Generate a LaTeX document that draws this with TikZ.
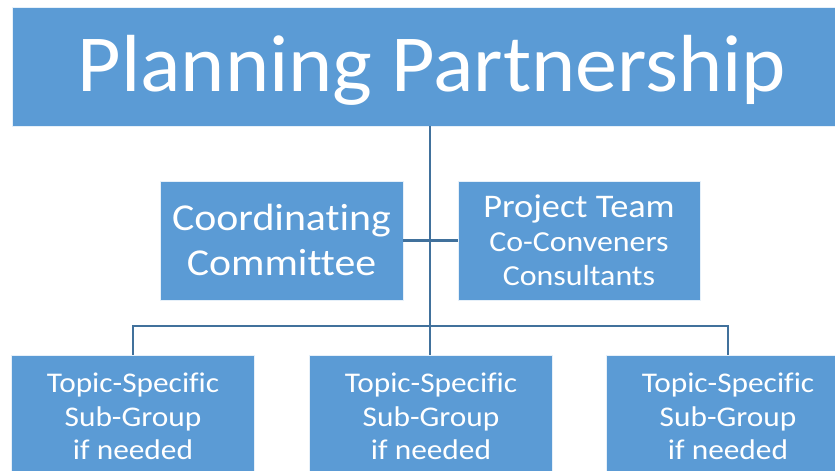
\documentclass[tikz,border=0pt]{standalone}
\usepackage{fontspec}
\setmainfont[Ligatures=NoCommon]{Carlito}
\newfontfamily\titlefont[Ligatures=NoCommon,FakeStretch=1.04]{Carlito}
\newfontfamily\widefont[Ligatures=NoCommon,FakeStretch=1.1]{Carlito}
\definecolor{boxfill}{HTML}{5B9BD5}
\definecolor{linecol}{HTML}{41719C}
\begin{document}
\begin{tikzpicture}[x=1pt,y=-1pt,
  box/.style={fill=boxfill, draw=white!85!boxfill, line width=0.8pt, inner sep=0pt},
  txt/.style={text=white, anchor=base, inner sep=0pt},
  conn/.style={draw=linecol, line width=2.4pt}]
\useasboundingbox (0,0) rectangle (835,471);
\begin{scope}
\clip (0,0) rectangle (835,471);
% boxes
\node[box, minimum width=836, minimum height=119] (top) at (430,66.5) {};
\node[box, minimum width=243, minimum height=119] (coord) at (281.5,240.5) {};
\node[box, minimum width=242, minimum height=119] (proj) at (579,240.5) {};
\node[box, minimum width=243, minimum height=122] (sub1) at (133,416) {};
\node[box, minimum width=243, minimum height=122] (sub2) at (430.5,416) {};
\node[box, minimum width=243, minimum height=122] (sub3) at (728,416) {};
% connectors
\coordinate (bus) at (430,326);
\draw[conn] (top.south -| bus) -- (sub2.north -| bus);
\draw[conn] (coord.east) -- (proj.west);
\draw[conn] (sub1.north) |- (bus) -| (sub3.north);
% texts
\node[txt, font=\titlefont\fontsize{81}{81}\selectfont] (t0) at (432,91) {Planning Partnership};
\node[txt, font=\widefont\fontsize{38}{38}\selectfont] (c1) at (281.5,230) {Coordinating};
\node[txt, font=\widefont\fontsize{38}{38}\selectfont] (c2) at (281.5,275) {Committee};
\node[txt, font=\widefont\fontsize{33}{33}\selectfont] (p1) at (579,217) {Project Team};
\node[txt, font=\widefont\fontsize{29}{29}\selectfont] (p2) at (579,251) {Co-Conveners};
\node[txt, font=\widefont\fontsize{29}{29}\selectfont] (p3) at (579,285) {Consultants};
\foreach \n/\x in {1/133,2/431,3/728}{
  \node[txt, font=\widefont\fontsize{28.5}{28.5}\selectfont] (s\n a) at (\x,392) {Topic-Specific};
  \node[txt, font=\widefont\fontsize{28.5}{28.5}\selectfont] (s\n b) at (\x,426) {Sub-Group};
  \node[txt, font=\widefont\fontsize{28.5}{28.5}\selectfont] (s\n c) at (\x,459) {if needed};
}
\end{scope}
\end{tikzpicture}
\end{document}
